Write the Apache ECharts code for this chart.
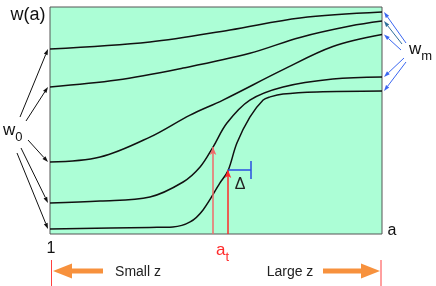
<!DOCTYPE html>
<html><head><meta charset="utf-8">
<script src="https://cdn.jsdelivr.net/npm/echarts/dist/echarts.min.js"></script>
<style>html,body{margin:0;padding:0;background:#fff}#c{width:436px;height:286px}</style>
</head><body><div id="c"></div>
<script>
// Curves: [a (0..100 of axis span), w (0..100 of axis span)]
const curve1 = [[0,81.5],[30.1,84.6],[54.2,89.9],[75.3,95.2],[100,97.8]];
const curve2 = [[0,64.8],[20.2,67.8],[40.1,73.1],[60.2,79.6],[75.3,86.6],[90.4,91.6],[100,93.8]];
const curve3 = [[0,31.7],[15.1,33.9],[30.1,42.7],[42.2,52.4],[52.1,59.0],[70.2,72.4],[85.2,82.6],[100,87.9]];
const curve4 = [[0,13.7],[15.1,14.5],[30.1,16.3],[40.1,22.9],[45.2,29.5],[49.1,38.3],[53.3,48.9],[60.2,59.0],[70.2,64.8],[85.2,68.3],[100,69.2]];
const curve5 = [[0,2.2],[30.1,2.9],[37.0,3.1],[42.2,5.3],[46.1,10.6],[51.2,22.5],[53.6,27.8],[56.3,40.1],[60.2,51.5],[64.2,59.0],[66.3,60.4],[70.2,61.7],[80.4,62.6],[100,63.0]];
const curves = [curve1, curve2, curve3, curve4, curve5];
// transition markers
const arrowTX = [49.1, 53.6];
const arrowTopY = [38.3, 28.2];
const deltaEndX = 60.5;
const deltaHalf = 4.0;
const xTickLabels = ['1', 'a'];

const chart = echarts.init(document.getElementById('c'), null, {renderer:'canvas'});
const series = curves.map(c => ({
  type:'line', data:c, smooth:0.35, showSymbol:false, symbol:'none',
  lineStyle:{color:'#111', width:1.5}, silent:true, z:3
}));
series.push({
  type:'line', data:[], silent:true, z:4,
  markLine:{
    silent:true, symbol:['none','arrow'], symbolSize:[5,8], label:{show:false},
    data:[
      [{coord:[arrowTX[0],0], lineStyle:{color:'#f06a6a',width:1.5,type:'solid'}},{coord:[arrowTX[0],arrowTopY[0]]}],
      [{coord:[arrowTX[1],0], lineStyle:{color:'#ff2a2a',width:1.5,type:'solid'}},{coord:[arrowTX[1],arrowTopY[1]]}]
    ]
  }
});
series.push({
  type:'line', data:[], silent:true, z:4,
  markLine:{
    silent:true, symbol:['none','none'], label:{show:false},
    lineStyle:{color:'#2a4ee0', width:1.5, type:'solid'},
    data:[
      [{coord:[arrowTX[1],arrowTopY[1]]},{coord:[deltaEndX,arrowTopY[1]]}],
      [{coord:[deltaEndX,arrowTopY[1]-deltaHalf]},{coord:[deltaEndX,arrowTopY[1]+deltaHalf]}]
    ]
  }
});

chart.setOption({
  animation:false,
  grid:{left:50, top:7, width:332, height:227, show:true, backgroundColor:'#acfed6', borderColor:'#555', borderWidth:1},
  xAxis:{type:'value', min:0, max:100, axisLine:{show:false}, axisTick:{show:false}, axisLabel:{show:false}, splitLine:{show:false}},
  yAxis:{type:'value', min:0, max:100, axisLine:{show:false}, axisTick:{show:false}, axisLabel:{show:false}, splitLine:{show:false}},
  series:series
});

function arrow(x1,y1,x2,y2,color,w,hl,hw){
  const ang=Math.atan2(y2-y1,x2-x1);
  const bx=x2-hl*Math.cos(ang), by=y2-hl*Math.sin(ang);
  const px=-Math.sin(ang)*hw/2, py=Math.cos(ang)*hw/2;
  return [
    {type:'line', silent:true, z:10, shape:{x1:x1,y1:y1,x2:bx,y2:by}, style:{stroke:color,lineWidth:w}},
    {type:'polygon', silent:true, z:10, shape:{points:[[x2,y2],[bx+px,by+py],[bx-px,by-py]]}, style:{fill:color}}
  ];
}
const g = [];
const w0Tails = [[20,117],[26,121],[28,140],[21,148],[17,153]];
curves.forEach((c,i)=>{
  const p = chart.convertToPixel({gridIndex:0}, c[0]);
  g.push(...arrow(w0Tails[i][0], w0Tails[i][1], p[0]-2, p[1], '#111', 1, 6, 4));
});
const wmTails = [[406,43],[402,44],[401,50],[404,58],[406,62]];
const wmCols = ['#3a66f0','#2f6f9a','#3a66f0','#3a66f0','#3a66f0'];
curves.forEach((c,i)=>{
  const p = chart.convertToPixel({gridIndex:0}, c[c.length-1]);
  g.push(...arrow(wmTails[i][0], wmTails[i][1], p[0]+2, p[1], wmCols[i], 1, 6, 4));
});
// bottom range markers
const leftPx = chart.convertToPixel({gridIndex:0}, [0,0]);
const rightPx = chart.convertToPixel({gridIndex:0}, [100,0]);
g.push({type:'line', silent:true, shape:{x1:leftPx[0]+1.5,y1:260,x2:leftPx[0]+1.5,y2:286}, style:{stroke:'#ff4040',lineWidth:1}});
g.push({type:'line', silent:true, shape:{x1:rightPx[0]-1,y1:260,x2:rightPx[0]-1,y2:286}, style:{stroke:'#ff4040',lineWidth:1}});
g.push(...arrow(103,271,53,271,'#f7913d',5,19,15));
g.push(...arrow(323,271,380,271,'#f7913d',5,19,15));
// texts
const txt = (x,y,text,opts)=>Object.assign({type:'text', silent:true, z:20, x:x, y:y,
  style:Object.assign({text:text, fontFamily:'Liberation Sans, Arial, sans-serif', fontSize:16, fill:'#111', align:'center', verticalAlign:'middle'}, opts||{})});
g.push(txt(28,15,'w(a)',{fontSize:18}));
g.push(txt(leftPx[0]+1,249,xTickLabels[0],{fontSize:16}));
g.push(txt(392,231,xTickLabels[1],{fontSize:16}));
g.push({type:'text', silent:true, z:20, x:3, y:130, style:{
  text:'{w|w}{s|0}', align:'left', verticalAlign:'middle',
  rich:{w:{fontSize:17, fontFamily:'Liberation Sans, Arial, sans-serif', fill:'#111'},
        s:{fontSize:13, fontFamily:'Liberation Sans, Arial, sans-serif', fill:'#111', padding:[14,0,0,0]}}}});
g.push({type:'text', silent:true, z:20, x:409, y:49, style:{
  text:'{w|w}{s|m}', align:'left', verticalAlign:'middle',
  rich:{w:{fontSize:17, fontFamily:'Liberation Sans, Arial, sans-serif', fill:'#111'},
        s:{fontSize:13, fontFamily:'Liberation Sans, Arial, sans-serif', fill:'#111', padding:[14,0,0,0]}}}});
g.push({type:'text', silent:true, z:20, x:216, y:250, style:{
  text:'{w|a}{s|t}', align:'left', verticalAlign:'middle',
  rich:{w:{fontSize:17, fontFamily:'Liberation Sans, Arial, sans-serif', fill:'#ff2a2a'},
        s:{fontSize:13, fontFamily:'Liberation Sans, Arial, sans-serif', fill:'#ff2a2a', padding:[14,0,0,0]}}}});
g.push(txt(240,185,'Δ',{fontSize:16, fill:'#222'}));
g.push(txt(138,272,'Small z',{fontSize:14, fill:'#222'}));
g.push(txt(290,272,'Large z',{fontSize:14, fill:'#222'}));
chart.setOption({graphic:g});
</script>
</body></html>
